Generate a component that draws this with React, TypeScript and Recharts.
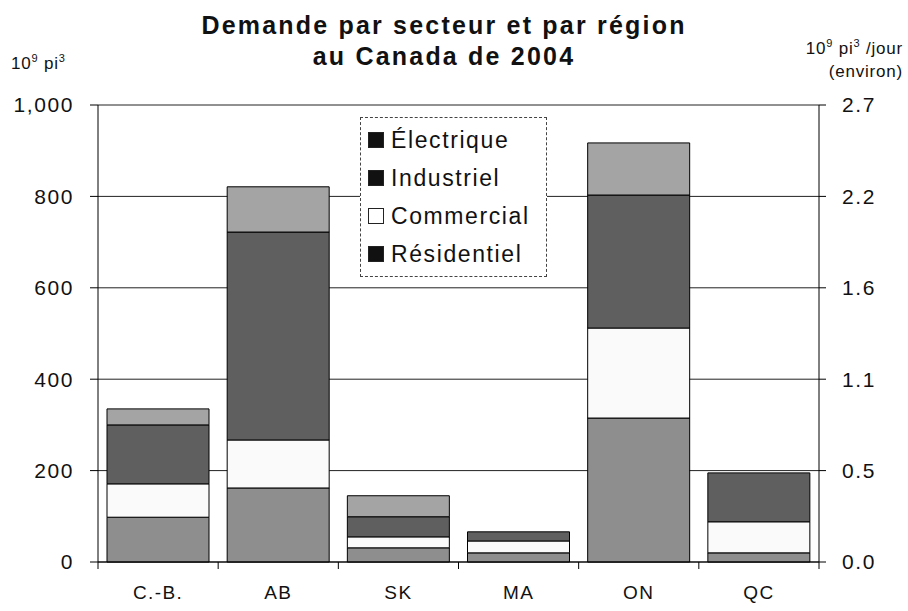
import { Bar, BarChart, CartesianGrid, Legend, XAxis, YAxis } from "recharts"

const REGIONS = ["C.-B.", "AB", "SK", "MA", "ON", "QC"]
const RESIDENTIEL = [98, 162, 31, 20, 315, 20]
const COMMERCIAL = [73, 105, 24, 26, 197, 68]
const INDUSTRIEL = [129, 455, 44, 20, 291, 107]
const ELECTRIQUE = [35, 99, 46, 0, 114, 0]

const LEFT_TICKS = [0, 200, 400, 600, 800, 1000]
const RIGHT_TICK_LABELS = ["0.0", "0.5", "1.1", "1.6", "2.2", "2.7"]

const FONT = '"Liberation Sans", Arial, sans-serif'

const SERIES = [
  { key: "res", name: "Résidentiel", fill: "#8e8e8e", swatch: "#111" },
  { key: "com", name: "Commercial", fill: "#fafafa", swatch: "#fff" },
  { key: "ind", name: "Industriel", fill: "#5f5f5f", swatch: "#111" },
  { key: "ele", name: "Électrique", fill: "#a4a4a4", swatch: "#111" },
]

const data = REGIONS.map((r, i) => ({
  region: r,
  res: RESIDENTIEL[i],
  com: COMMERCIAL[i],
  ind: INDUSTRIEL[i],
  ele: ELECTRIQUE[i],
}))

const fmtLeft = (v: number) => v.toLocaleString("en-US")
const fmtRight = (v: number) => RIGHT_TICK_LABELS[LEFT_TICKS.indexOf(Number(v))] ?? ""

function LegendBox() {
  // legend lists top segment first, like the stack
  return (
    <div
      style={{
        background: "#fff",
        border: "1px dashed #444",
        padding: "3px 0 3px 7px",
        fontFamily: FONT,
        fontSize: 23,
        letterSpacing: 1.6,
        color: "#111",
        lineHeight: "38px",
      }}
    >
      {[...SERIES].reverse().map((s) => (
        <div key={s.key} style={{ display: "flex", alignItems: "center", whiteSpace: "nowrap" }}>
          <span
            style={{
              width: 14,
              height: 14,
              background: s.swatch,
              border: "1px solid #222",
              marginRight: 7,
              flexShrink: 0,
            }}
          />
          {s.name}
        </div>
      ))}
    </div>
  )
}

function XTick(props: any) {
  const { x, y, payload, index } = props
  const half = payload?.offset ?? 60
  return (
    <g>
      <line x1={x - half} y1={y - 8} x2={x - half} y2={y - 1} stroke="#000" />
      {index === REGIONS.length - 1 && (
        <line x1={x + half} y1={y - 8} x2={x + half} y2={y - 1} stroke="#000" />
      )}
      <text
        x={x}
        y={y + 29}
        textAnchor="middle"
        fontSize={19}
        fontFamily={FONT}
        letterSpacing={1.4}
        fill="#111"
      >
        {payload.value}
      </text>
    </g>
  )
}

const unitStyle = { fontFamily: FONT, fontSize: 17, letterSpacing: 0.8, color: "#111" }

export default function App() {
  return (
    <div style={{ position: "absolute", left: 0, top: 0, width: 908, height: 611, background: "#fff" }}>
      <div
        style={{
          position: "absolute",
          left: 0,
          top: 10,
          width: 888,
          textAlign: "center",
          fontFamily: FONT,
          fontWeight: "bold",
          fontSize: 25,
          letterSpacing: 2.2,
          lineHeight: "31px",
          color: "#111",
        }}
      >
        Demande par secteur et par région
        <br />
        au Canada de 2004
      </div>
      <div style={{ ...unitStyle, position: "absolute", left: 11, top: 52 }}>
        10<sup style={{ fontSize: 11 }}>9</sup> pi<sup style={{ fontSize: 11 }}>3</sup>
      </div>
      <div
        style={{
          ...unitStyle,
          position: "absolute",
          right: 5,
          top: 32,
          textAlign: "right",
          lineHeight: "23px",
        }}
      >
        10<sup style={{ fontSize: 11 }}>9</sup> pi<sup style={{ fontSize: 11 }}>3</sup> /jour
        <br />
        (environ)
      </div>
      <BarChart
        width={908}
        height={611}
        data={data}
        margin={{ top: 105, right: 0, bottom: 0, left: 0 }}
        barCategoryGap="7.5%"
        style={{ position: "absolute", left: 0, top: 0 }}
      >
        <CartesianGrid vertical={false} stroke="#222" yAxisId="left" />
        <XAxis
          dataKey="region"
          height={49}
          tickLine={false}
          axisLine={{ stroke: "#000" }}
          interval={0}
          tick={<XTick />}
        />
        <YAxis
          yAxisId="left"
          width={98}
          type="number"
          domain={[0, 1000]}
          ticks={LEFT_TICKS}
          tickFormatter={fmtLeft}
          tickSize={8}
          tickMargin={16}
          axisLine={{ stroke: "#000" }}
          tickLine={{ stroke: "#000" }}
          tick={{ fontSize: 21, fontFamily: FONT, fill: "#111", letterSpacing: 1.6 }}
        />
        <YAxis
          yAxisId="right"
          orientation="right"
          width={89}
          type="number"
          domain={[0, 1000]}
          allowDataOverflow
          ticks={LEFT_TICKS}
          tickFormatter={fmtRight}
          tickSize={7}
          tickMargin={16}
          axisLine={{ stroke: "#000" }}
          tickLine={{ stroke: "#000" }}
          tick={{ fontSize: 21, fontFamily: FONT, fill: "#111", letterSpacing: 1.6 }}
        />
        {SERIES.map((s) => (
          <Bar
            key={s.key}
            yAxisId="left"
            dataKey={s.key}
            name={s.name}
            stackId="a"
            fill={s.fill}
            stroke="#000"
            strokeWidth={1}
            isAnimationActive={false}
          />
        ))}
        <Legend
          layout="vertical"
          align="center"
          verticalAlign="middle"
          content={<LegendBox />}
          wrapperStyle={{ left: 360, top: 117, width: 187 }}
        />
      </BarChart>
    </div>
  )
}
